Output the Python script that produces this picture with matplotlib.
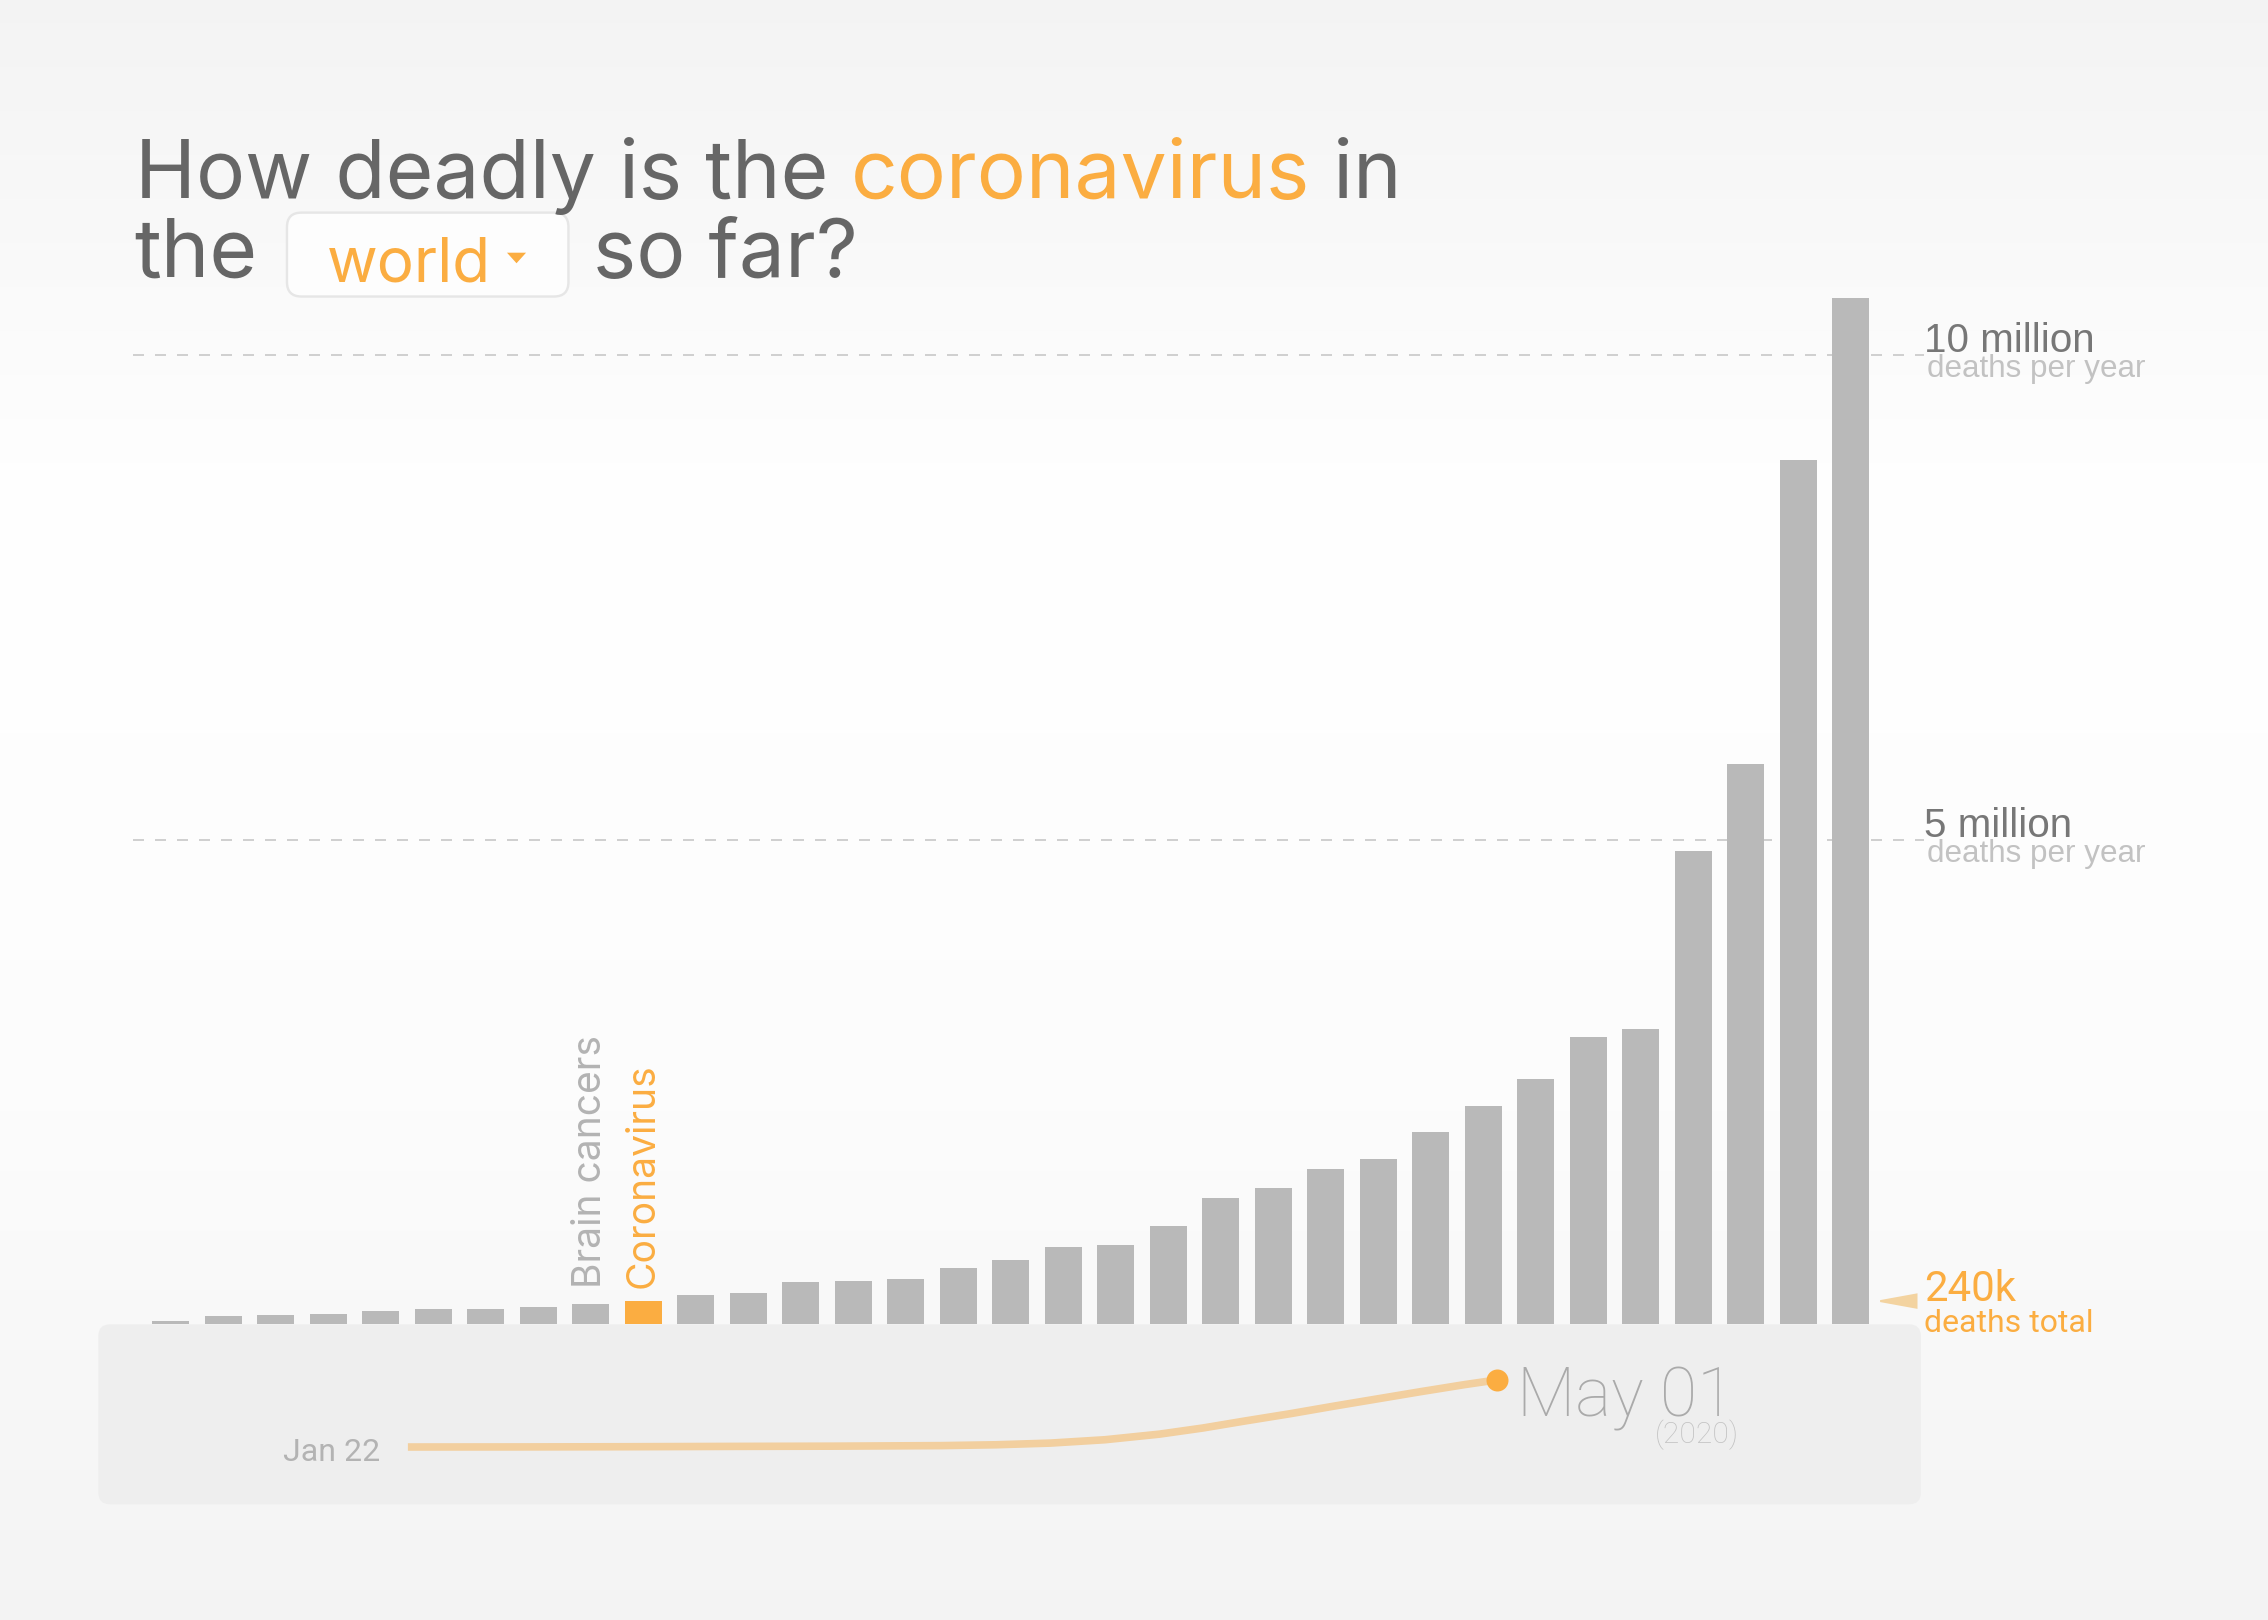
import matplotlib
matplotlib.use('Agg')
import matplotlib.pyplot as plt
import numpy as np
import pandas as pd
from matplotlib.patches import FancyBboxPatch, Polygon

plt.rcParams['font.family'] = ['Inter', 'DejaVu Sans']

# ---------------------------------------------------------------------------- #
# data

# yearly deaths per cause (millions), sorted; index 9 is the coronavirus bar
deaths_m = [0.035, 0.09, 0.10, 0.11, 0.14, 0.16, 0.16, 0.18, 0.21, 0.24,
            0.30, 0.32, 0.44, 0.45, 0.47, 0.58, 0.66, 0.80, 0.82, 1.02,
            1.30, 1.41, 1.60, 1.71, 1.99, 2.25, 2.53, 2.97, 3.05, 4.88,
            5.78, 8.92, 10.59]
label_index = [8, 9]
label_names = ['Brain cancers', 'Coronavirus']
highlight = 9

ref_lines = [10, 5]
ref_labels = ['10 million', '5 million']

corona_total_m = 0.24
corona_total_label = '240k'

# cumulative coronavirus deaths (thousands)
dates = ['2020-01-22', '2020-02-01', '2020-02-11', '2020-02-21', '2020-03-01',
         '2020-03-11', '2020-03-16', '2020-03-21', '2020-03-26', '2020-03-31',
         '2020-04-04', '2020-04-08', '2020-04-12', '2020-04-16', '2020-04-20',
         '2020-04-24', '2020-04-28', '2020-05-01']
cum_k = [0.02, 0.3, 1.0, 2.2, 3.0, 5.0, 8, 14, 26, 46,
         68, 94, 119, 146, 172, 198, 223, 240]

# ---------------------------------------------------------------------------- #
# layout helpers (reference measured on a 1568 x 1120 grid)

W, H = 1568.0, 1120.0
def fx(x):
    return x / W
def fy(y):
    return 1 - y / H

grey_title = '#666666'
orange = '#fbad41'
bar_grey = '#b9b9b9'

fig = plt.figure(figsize=(15.75, 11.25), dpi=144)

# background gradient
bg = fig.add_axes([0, 0, 1, 1], zorder=-10)
rows = np.linspace(0, H, 400)
levels = np.interp(rows, [0, 350, 750, H], [0.955, 1.0, 0.99, 0.955])
bg.imshow(np.repeat(levels[:, None], 2, axis=1)[:, :, None].repeat(3, axis=2),
          aspect='auto', extent=[0, 1, 0, 1], interpolation='bilinear')
bg.set_axis_off()

# bottom timeline panel
panel = FancyBboxPatch((fx(68), fy(1040)), fx(1328) - fx(68), (1040 - 915.6) / H,
                       boxstyle='round,pad=0,rounding_size=%f' % (8 / W),
                       mutation_aspect=W / H, transform=fig.transFigure,
                       facecolor='#eeeeee', edgecolor='none', zorder=-5)
fig.patches.append(panel)

# ---------------------------------------------------------------------------- #
# bars

base_y = 915.6
ax = fig.add_axes([fx(92), fy(base_y), fx(1330) - fx(92), (base_y - 194.7) / H])
ax.patch.set_alpha(0)
idx = np.arange(len(deaths_m))
colors = [orange if i == highlight else bar_grey for i in idx]
ax.bar(idx, deaths_m, width=0.70, color=colors, zorder=2)
ax.set_xlim(-0.716, 33.388)
ax.set_ylim(0, 10.76)
ax.set_axis_off()

ytr = ax.get_yaxis_transform()
for yv, lab in zip(ref_lines, ref_labels):
    ax.axhline(yv, color='#d0d0d0', lw=1, dashes=(5.5, 5.5), zorder=1)
    ax.text(1.0, yv + 0.03, lab, transform=ytr, ha='left', va='baseline',
            fontsize=20.2, color='#777777', family='Liberation Sans')
    ax.text(1.0016, yv - 0.225, 'deaths per year', transform=ytr, ha='left',
            va='baseline', fontsize=15.7, color='#c2c2c2', family='Liberation Sans')

for i, name in zip(label_index, label_names):
    ax.text(i, 0.38, name, rotation=90, ha='center', va='bottom', fontsize=19.5,
            color=orange if i == highlight else '#b3b3b3')

# pointer to the coronavirus total
ax.fill([32.56, 33.25, 33.25],
        [corona_total_m, corona_total_m + 0.068, corona_total_m - 0.068],
        color='#f3d3a0', clip_on=False, zorder=3)
ax.text(1.0, corona_total_m, corona_total_label, transform=ytr, ha='left',
        va='baseline', fontsize=21, color=orange, family='Roboto')
ax.text(1.0, corona_total_m - 0.316, 'deaths total', transform=ytr, ha='left',
        va='baseline', fontsize=16, color=orange, family='Roboto')

# ---------------------------------------------------------------------------- #
# timeline

t = pd.to_datetime(dates)
ax2 = fig.add_axes([fx(282), fy(1000.4), fx(1035) - fx(282), (1000.4 - 954) / H])
ax2.patch.set_alpha(0)
ax2.plot(t, cum_k, color='#f2cf9f', lw=3.8, solid_capstyle='butt',
         solid_joinstyle='round', clip_on=False)
ax2.plot(t[-1:], cum_k[-1:], 'o', ms=11, color=orange, mec='none', clip_on=False)
ax2.set_xlim(t[0], t[-1])
ax2.set_ylim(0, cum_k[-1])
ax2.set_axis_off()

fig.text(fx(263), fy(1010), t[0].strftime('%b %d'), ha='right', va='baseline',
         fontsize=16, color='#b3b3b3', family='Roboto')
fig.text(fx(1049), fy(979), t[-1].strftime('%b %d'), ha='left', va='baseline',
         fontsize=34, color='#aaaaaa', family='Roboto', fontweight='light')
fig.text(fx(1202), fy(998), '(%d)' % t[-1].year, ha='right', va='baseline',
         fontsize=15, color='#c2c2c2', family='Roboto', fontweight='light')

# ---------------------------------------------------------------------------- #
# title

renderer = fig.canvas.get_renderer()

def chain(x, y, pieces, size):
    for s, c in pieces:
        tx = fig.text(x, y, s, ha='left', va='baseline', fontsize=size, color=c)
        bb = tx.get_window_extent(renderer=renderer)
        x = fig.transFigure.inverted().transform((bb.x1, bb.y0))[0]
    return x

title_size = 41
chain(fx(93), fy(136.7), [('How deadly is the ', grey_title),
                          ('coronavirus', orange), (' in', grey_title)], title_size)
fig.text(fx(93), fy(191.3), 'the', ha='left', va='baseline', fontsize=title_size,
         color=grey_title)
fig.text(fx(410), fy(191.3), 'so far?', ha='left', va='baseline', fontsize=title_size,
         color=grey_title)

box = FancyBboxPatch((fx(198.4), fy(205)), fx(393) - fx(198.4), (205 - 147) / H,
                     boxstyle='round,pad=0,rounding_size=%f' % (10 / W),
                     mutation_aspect=W / H, transform=fig.transFigure,
                     facecolor='#fdfdfd', edgecolor='#e6e6e6', lw=1.2)
fig.patches.append(box)
fig.text(fx(226), fy(194.7), 'world', ha='left', va='baseline', fontsize=31,
         color=orange)
fig.patches.append(Polygon([(fx(350.5), fy(174.7)), (fx(363.7), fy(174.7)),
                            (fx(357.1), fy(182))], closed=True,
                           transform=fig.transFigure, facecolor=orange,
                           edgecolor='none'))

fig.savefig('out.png', dpi=144)
